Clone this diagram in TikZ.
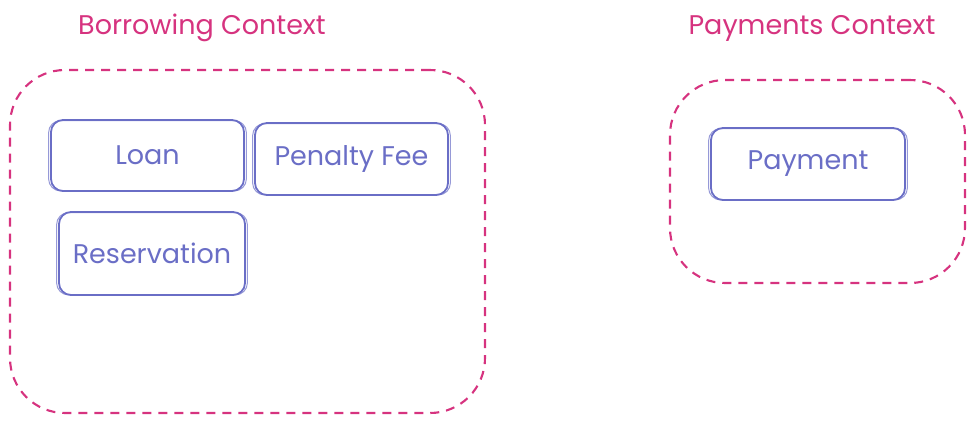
\documentclass[tikz,border=0pt]{standalone}
\usepackage{fontspec}
\setmainfont{Poppins}
\usetikzlibrary{positioning}
\definecolor{ctxpink}{HTML}{D6337F}
\definecolor{entblue}{HTML}{6A6EC6}
\tikzset{
  context/.style={draw=ctxpink, line width=2.1pt, dash pattern=on 9pt off 7pt,
                  rounded corners=55pt, inner sep=0pt},
  ctxtitle/.style={text=ctxpink, font=\fontsize{27}{31}\selectfont},
  entity/.style={draw=entblue, line width=1.8pt, rounded corners=12pt,
                 text=entblue, font=\fontsize{27}{31}\selectfont, inner sep=0pt},
  sketch/.style={draw=entblue, line width=1pt, rounded corners=12pt, opacity=0.7}
}
\begin{document}
\begin{tikzpicture}[x=1pt, y=-1pt]
  \useasboundingbox (0,0) rectangle (975,424);

  % bounded contexts
  \node[context, minimum width=475pt, minimum height=343pt] (borrowing) at (247.5,241.5) {};
  \node[context, minimum width=295pt, minimum height=203pt] (payments)  at (817.5,181.5) {};

  \node[ctxtitle] (borrowingtitle) at (202,28) {Borrowing Context};
  \node[ctxtitle] (paymentstitle)  at (812,28) {Payments Context};

  % entities
  \node[entity, minimum width=193pt, minimum height=71pt] (loan)        at (147.5,155.5) {Loan};
  \node[entity, minimum width=193pt, minimum height=72pt] (penalty)     at (351.5,159)   {Penalty Fee};
  \node[entity, minimum width=186pt, minimum height=83pt] (reservation) at (152,253.5)   {Reservation};
  \node[entity, minimum width=194pt, minimum height=72pt] (payment)     at (808,164)     {Payment};

  % second pen stroke
  \foreach \ent in {loan, penalty, reservation, payment}
    \draw[sketch] ([shift={(-1.5,1.5)}]\ent.north west) rectangle ([shift={(1.5,-1)}]\ent.south east);

\end{tikzpicture}
\end{document}
